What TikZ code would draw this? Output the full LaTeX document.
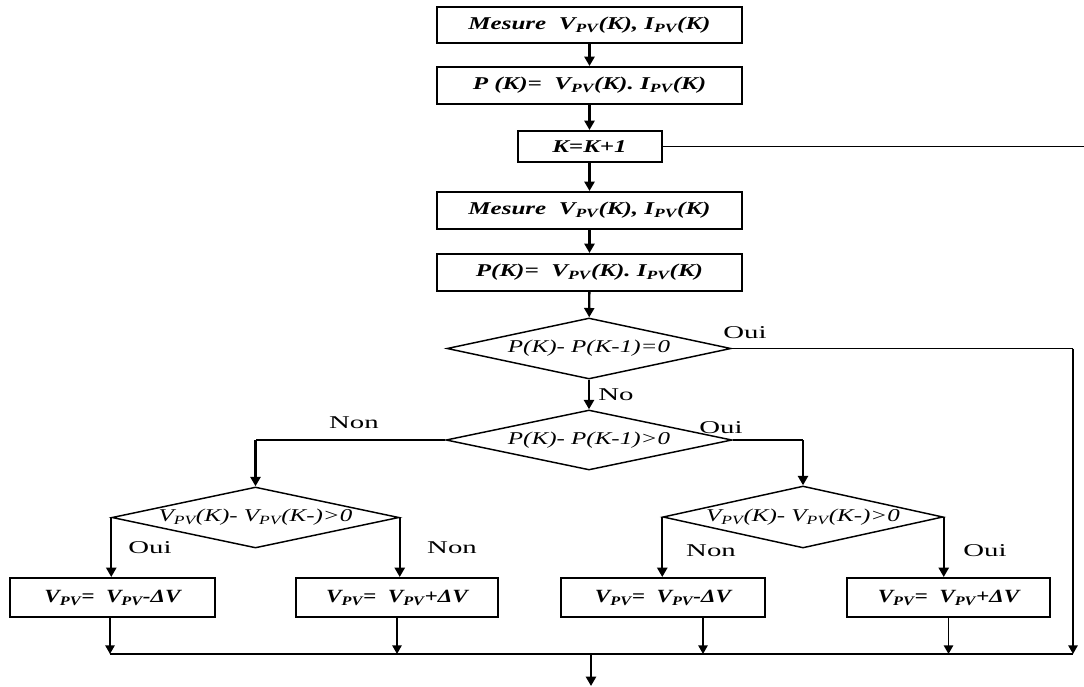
\documentclass[tikz,border=0pt]{standalone}
\usepackage{fontspec}
\setmainfont{Liberation Serif}
\newfontfamily\wideserif[FakeStretch=1.39]{Liberation Serif}
\newfontfamily\midserif[FakeStretch=1.24]{Liberation Serif}
\newfontfamily\labserif[FakeStretch=1.6]{Liberation Serif}
\usetikzlibrary{shapes.geometric,arrows.meta}
\newcommand\vpv{V\textsubscript{PV}}
\newcommand\ipv{I\textsubscript{PV}}
\tikzset{
  procbox/.style={draw, line width=1.5pt, inner sep=0pt,
    font=\wideserif\fontsize{13.5}{15}\selectfont\bfseries\itshape},
  updbox/.style={procbox, font=\midserif\fontsize{14}{15}\selectfont\bfseries\itshape},
  decision/.style={diamond, draw, line width=1.1pt, aspect=4.7, inner sep=0pt,
    font=\wideserif\fontsize{13.5}{15}\selectfont\itshape},
  flow/.style={line width=1.7pt, -{Triangle[length=7pt,width=7.5pt]}},
  link/.style={line width=1pt},
  linkarrow/.style={line width=1.2pt, -{Triangle[length=6.5pt,width=7pt]}},
  lab/.style={font=\labserif\fontsize{13.5}{16}\selectfont, inner sep=0pt}
}
\begin{document}
\begin{tikzpicture}[x=0.75pt, y=-0.75pt]
\useasboundingbox (0,0) rectangle (1084,686);

% main column
\node[procbox, minimum width=228.75pt, minimum height=27pt] (m1) at (589.5,25) {Mesure\ \ \vpv(K), \ipv(K)};
\node[procbox, minimum width=228.75pt, minimum height=27.75pt] (p1) at (589.5,85.5) {P (K)=\ \ \vpv(K). \ipv(K)};
\node[procbox, minimum width=108pt, minimum height=23.25pt] (inc) at (589.5,146.5) {K=K+1};
\node[procbox, minimum width=228.75pt, minimum height=27.75pt] (m2) at (589.5,210.5) {Mesure\ \ \vpv(K), \ipv(K)};
\node[procbox, minimum width=228.75pt, minimum height=27.75pt] (p2) at (589.5,272.5) {P(K)=\ \ \vpv(K). \ipv(K)};

% decisions
\node[decision, minimum width=213pt, minimum height=45.75pt] (d1) at (589,348.5) {P(K)- P(K-1)=0};
\node[decision, minimum width=214.5pt, minimum height=45pt] (d2) at (589,440) {P(K)- P(K-1)>0};
\node[decision, minimum width=215.25pt, minimum height=45.75pt] (d3) at (255.5,517.5) {\vpv(K)-\ \vpv(K-)>0};
\node[decision, minimum width=210pt, minimum height=46.5pt] (d4) at (803,517) {\vpv(K)-\ \vpv(K-)>0};

% voltage updates
\node[updbox, minimum width=153.75pt, minimum height=29.25pt] (ba) at (112.5,597.5) {\vpv=\ \ \vpv-ΔV};
\node[updbox, minimum width=151.5pt, minimum height=29.25pt] (bb) at (397,597.5) {\vpv=\ \ \vpv+ΔV};
\node[updbox, minimum width=153pt, minimum height=29.25pt] (bc) at (663,597.5) {\vpv=\ \ \vpv-ΔV};
\node[updbox, minimum width=152.25pt, minimum height=29.25pt] (bd) at (948.5,597.5) {\vpv=\ \ \vpv+ΔV};

% free ends and junctions
\coordinate (loop) at (1084,146.5);
\coordinate (rt) at (1073,348.5);
\coordinate (busL) at (110,654);
\coordinate (busR) at (1073,654);
\coordinate (out) at (591,686);

% main flow
\draw[flow] (m1) -- (p1);
\draw[flow] (p1) -- (inc);
\draw[flow] (inc) -- (m2);
\draw[flow] (m2) -- (p2);
\draw[flow] (p2) -- (d1);
\draw[flow] (d1) -- (d2);
\draw[link] (inc.east) -- (loop);

% branches
\draw[link] (d1.east) -- (rt);
\draw[linkarrow] (rt) -- (busR);
\draw[link] (d2.west) -- (d3.north |- d2.west);
\draw[flow] (d3.north |- d2.west) -- (d3.north);
\draw[link] (d2.east) -- (d4.north |- d2.east);
\draw[flow] (d4.north |- d2.east) -- (d4.north);
\draw[flow] (d3.west) -- (d3.west |- ba.north);
\draw[flow] (d3.east) -- (d3.east |- bb.north);
\draw[flow] (d4.west) -- (d4.west |- bc.north);
\draw[flow] (d4.east) -- (d4.east |- bd.north);

% collector
\draw[linkarrow] (ba.south -| busL) -- (busL);
\draw[linkarrow] (bb.south) -- (bb.south |- busL);
\draw[linkarrow] ([xshift=30pt]bc.south) -- ([xshift=30pt]bc.south |- busL);
\draw[linkarrow] (bd.south) -- (bd.south |- busL);
\draw[link] (busL) -- (busR);
\draw[flow] (out |- busL) -- (out);

% branch labels
\node[lab] (l1) at (745,333) {Oui};
\node[lab] (l2) at (616,395) {No};
\node[lab] (l3) at (354,423) {Non};
\node[lab] (l4) at (721,428) {Oui};
\node[lab] (l5) at (150,548) {Oui};
\node[lab] (l6) at (452,548) {Non};
\node[lab] (l7) at (711,551) {Non};
\node[lab] (l8) at (985,551) {Oui};
\end{tikzpicture}
\end{document}
